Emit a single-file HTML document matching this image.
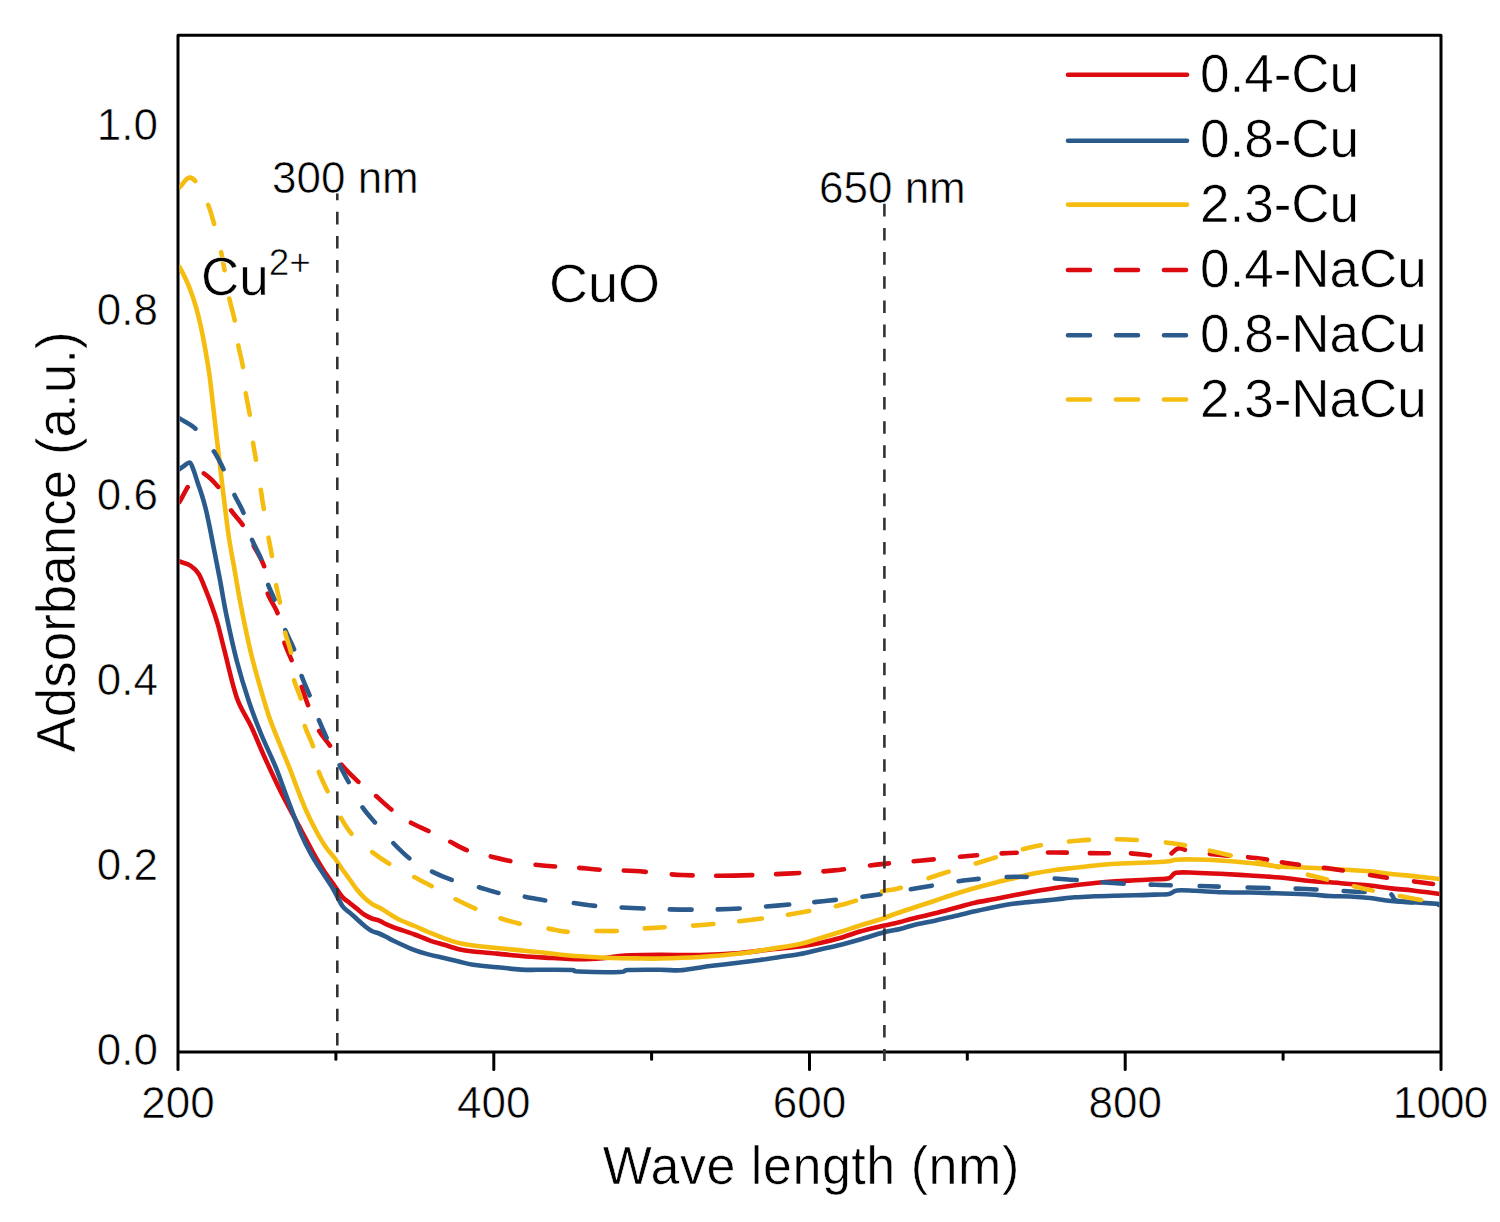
<!DOCTYPE html>
<html><head><meta charset="utf-8">
<style>
html,body{margin:0;padding:0;background:#fff;}
body{width:1500px;height:1222px;overflow:hidden;}
svg{display:block;}
text{font-family:"Liberation Sans",sans-serif;fill:#000;stroke:#fff;stroke-width:0.6px;}
</style></head>
<body>
<svg width="1500" height="1222" viewBox="0 0 1500 1222">
<defs><clipPath id="pc"><rect x="179.5" y="36" width="1260" height="1015"/></clipPath></defs>
<rect x="0" y="0" width="1500" height="1222" fill="#fff"/>
<!-- frame -->
<rect x="178" y="35.3" width="1263" height="1016.8" fill="none" stroke="#000" stroke-width="3" stroke-linejoin="round"/>
<!-- x ticks -->
<g stroke="#000" stroke-width="3" stroke-linecap="round">
<line x1="178" y1="1053" x2="178" y2="1069.5"/>
<line x1="493.8" y1="1053" x2="493.8" y2="1069.5"/>
<line x1="809.5" y1="1053" x2="809.5" y2="1069.5"/>
<line x1="1125.2" y1="1053" x2="1125.2" y2="1069.5"/>
<line x1="1441" y1="1053" x2="1441" y2="1069.5"/>
<line x1="335.9" y1="1053" x2="335.9" y2="1059.3"/>
<line x1="651.6" y1="1053" x2="651.6" y2="1059.3"/>
<line x1="967.3" y1="1053" x2="967.3" y2="1059.3"/>
<line x1="1283.1" y1="1053" x2="1283.1" y2="1059.3"/>
</g>
<!-- x tick labels -->
<g font-size="44" text-anchor="middle">
<text x="178" y="1117.5">200</text>
<text x="493.8" y="1117.5">400</text>
<text x="809.5" y="1117.5">600</text>
<text x="1125.2" y="1117.5">800</text>
<text x="1440.5" y="1117.5" textLength="95.5" lengthAdjust="spacing">1000</text>
</g>
<!-- y tick labels -->
<g font-size="44" text-anchor="end">
<text x="158" y="1064.5">0.0</text>
<text x="158" y="879.5">0.2</text>
<text x="158" y="694.5">0.4</text>
<text x="158" y="509.5">0.6</text>
<text x="158" y="324.5">0.8</text>
<text x="158" y="139.5">1.0</text>
</g>
<!-- axis titles -->
<text x="811" y="1184.5" transform="translate(0 1184.5) scale(1 1.035) translate(0 -1184.5)" font-size="52" text-anchor="middle" textLength="416.5" lengthAdjust="spacing">Wave length (nm)</text>
<text transform="translate(75.4,542) rotate(-90) scale(1 1.035)" font-size="53" text-anchor="middle">Adsorbance (a.u.)</text>

<!-- CURVES -->
<g id="curves" clip-path="url(#pc)">
<path d="M179.50,561.50 C183.13,562.87 187.22,563.55 190.40,565.60 C193.58,567.65 196.03,569.70 198.60,573.80 C201.17,577.90 203.57,584.75 205.80,590.20 C208.03,595.65 209.97,600.70 212.00,606.50 C214.03,612.30 215.92,617.63 218.00,625.00 C220.08,632.37 221.37,638.58 224.50,650.70 C227.63,662.82 232.37,685.10 236.80,697.70 C241.23,710.30 246.33,716.08 251.10,726.30 C255.87,736.52 260.28,747.75 265.40,759.00 C270.52,770.25 276.33,782.88 281.80,793.80 C287.27,804.72 292.75,814.27 298.20,824.50 C303.65,834.73 310.20,847.45 314.50,855.20 C318.80,862.95 320.58,865.78 324.00,871.00 C327.42,876.22 331.93,882.15 335.00,886.50 C338.07,890.85 339.95,894.35 342.40,897.10 C344.85,899.85 347.25,901.03 349.70,903.00 C352.15,904.97 354.63,906.93 357.10,908.90 C359.57,910.87 362.05,913.20 364.50,914.80 C366.95,916.40 369.35,917.52 371.80,918.50 C374.25,919.48 376.75,919.72 379.20,920.70 C381.65,921.68 384.03,923.27 386.50,924.40 C388.97,925.53 391.75,926.65 394.00,927.50 C396.25,928.35 396.57,928.33 400.00,929.50 C403.43,930.67 409.70,932.70 414.60,934.50 C419.50,936.30 424.48,938.58 429.40,940.30 C434.32,942.02 439.20,943.32 444.10,944.80 C449.00,946.28 453.98,948.08 458.80,949.20 C463.62,950.32 466.63,950.77 473.00,951.50 C479.37,952.23 489.00,952.85 497.00,953.60 C505.00,954.35 513.00,955.33 521.00,956.00 C529.00,956.67 535.17,957.05 545.00,957.60 C554.83,958.15 570.00,959.23 580.00,959.30 C590.00,959.37 597.50,958.63 605.00,958.00 C612.50,957.37 615.83,956.03 625.00,955.50 C634.17,954.97 647.50,954.88 660.00,954.80 C672.50,954.72 686.67,955.30 700.00,955.00 C713.33,954.70 728.33,953.92 740.00,953.00 C751.67,952.08 760.00,950.58 770.00,949.50 C780.00,948.42 791.67,947.58 800.00,946.50 C808.33,945.42 813.33,944.42 820.00,943.00 C826.67,941.58 833.33,939.92 840.00,938.00 C846.67,936.08 853.33,933.42 860.00,931.50 C866.67,929.58 874.17,927.87 880.00,926.50 C885.83,925.13 889.17,924.72 895.00,923.30 C900.83,921.88 908.33,919.67 915.00,918.00 C921.67,916.33 928.33,914.97 935.00,913.30 C941.67,911.63 948.33,909.77 955.00,908.00 C961.67,906.23 968.33,904.20 975.00,902.70 C981.67,901.20 988.33,900.28 995.00,899.00 C1001.67,897.72 1008.33,896.28 1015.00,895.00 C1021.67,893.72 1028.33,892.47 1035.00,891.30 C1041.67,890.13 1048.33,889.00 1055.00,888.00 C1061.67,887.00 1068.33,886.13 1075.00,885.30 C1081.67,884.47 1088.33,883.67 1095.00,883.00 C1101.67,882.33 1108.33,881.75 1115.00,881.30 C1121.67,880.85 1128.33,880.63 1135.00,880.30 C1141.67,879.97 1149.33,879.63 1155.00,879.30 C1160.67,878.97 1165.50,879.38 1169.00,878.30 C1172.50,877.22 1171.67,873.73 1176.00,872.80 C1180.33,871.87 1187.67,872.55 1195.00,872.70 C1202.33,872.85 1210.83,873.23 1220.00,873.70 C1229.17,874.17 1240.00,874.87 1250.00,875.50 C1260.00,876.13 1270.00,876.58 1280.00,877.50 C1290.00,878.42 1301.67,880.20 1310.00,881.00 C1318.33,881.80 1323.33,881.80 1330.00,882.30 C1336.67,882.80 1343.33,883.47 1350.00,884.00 C1356.67,884.53 1363.17,884.77 1370.00,885.50 C1376.83,886.23 1383.83,887.57 1391.00,888.40 C1398.17,889.23 1404.83,889.57 1413.00,890.50 C1421.17,891.43 1431.00,892.83 1440.00,894.00" fill="none" stroke="#DD0A0F" stroke-width="4.6" stroke-linecap="round" stroke-linejoin="round"/>
<path d="M179.50,469.00 C181.00,468.00 182.28,467.08 184.00,466.00 C185.72,464.92 188.18,461.75 189.80,462.50 C191.42,463.25 192.40,467.17 193.70,470.50 C195.00,473.83 196.28,478.53 197.60,482.50 C198.92,486.47 200.28,490.05 201.60,494.30 C202.92,498.55 204.20,502.77 205.50,508.00 C206.80,513.23 207.98,518.82 209.40,525.70 C210.82,532.58 212.23,540.25 214.00,549.30 C215.77,558.35 217.93,569.05 220.00,580.00 C222.07,590.95 223.60,601.50 226.40,615.00 C229.20,628.50 233.03,646.53 236.80,661.00 C240.57,675.47 244.92,689.55 249.00,701.80 C253.08,714.05 256.85,723.60 261.30,734.50 C265.75,745.40 271.27,756.28 275.70,767.20 C280.13,778.12 283.68,788.90 287.90,800.00 C292.12,811.10 297.05,824.62 301.00,833.80 C304.95,842.98 308.07,848.72 311.60,855.10 C315.13,861.48 318.65,866.53 322.20,872.10 C325.75,877.67 329.53,882.85 332.90,888.50 C336.27,894.15 339.60,901.98 342.40,906.00 C345.20,910.02 347.25,910.40 349.70,912.60 C352.15,914.80 354.63,917.00 357.10,919.20 C359.57,921.40 362.05,923.83 364.50,925.80 C366.95,927.77 369.35,929.72 371.80,931.00 C374.25,932.28 376.75,932.50 379.20,933.50 C381.65,934.50 384.03,935.75 386.50,937.00 C388.97,938.25 389.32,938.80 394.00,941.00 C398.68,943.20 408.70,947.93 414.60,950.20 C420.50,952.47 424.48,953.30 429.40,954.60 C434.32,955.90 439.20,956.85 444.10,958.00 C449.00,959.15 453.98,960.37 458.80,961.50 C463.62,962.63 466.63,963.85 473.00,964.80 C479.37,965.75 489.00,966.40 497.00,967.20 C505.00,968.00 513.00,969.17 521.00,969.60 C529.00,970.03 536.50,969.73 545.00,969.80 C553.50,969.87 566.50,969.72 572.00,970.00 C577.50,970.28 570.00,971.17 578.00,971.50 C586.00,971.83 611.67,972.25 620.00,972.00 C628.33,971.75 621.33,970.37 628.00,970.00 C634.67,969.63 651.33,969.75 660.00,969.80 C668.67,969.85 673.83,970.60 680.00,970.30 C686.17,970.00 692.00,968.72 697.00,968.00 C702.00,967.28 703.50,966.83 710.00,966.00 C716.50,965.17 727.67,964.00 736.00,963.00 C744.33,962.00 752.67,961.00 760.00,960.00 C767.33,959.00 773.33,958.00 780.00,957.00 C786.67,956.00 793.33,955.27 800.00,954.00 C806.67,952.73 813.33,950.90 820.00,949.40 C826.67,947.90 833.33,946.65 840.00,945.00 C846.67,943.35 852.67,941.62 860.00,939.50 C867.33,937.38 877.33,934.05 884.00,932.30 C890.67,930.55 894.83,930.27 900.00,929.00 C905.17,927.73 909.17,926.08 915.00,924.70 C920.83,923.32 928.33,922.15 935.00,920.70 C941.67,919.25 948.33,917.57 955.00,916.00 C961.67,914.43 968.33,912.80 975.00,911.30 C981.67,909.80 988.33,908.30 995.00,907.00 C1001.67,905.70 1008.33,904.42 1015.00,903.50 C1021.67,902.58 1028.33,902.17 1035.00,901.50 C1041.67,900.83 1048.33,900.20 1055.00,899.50 C1061.67,898.80 1068.33,897.83 1075.00,897.30 C1081.67,896.77 1088.33,896.57 1095.00,896.30 C1101.67,896.03 1108.33,895.87 1115.00,895.70 C1121.67,895.53 1128.33,895.48 1135.00,895.30 C1141.67,895.12 1149.33,894.83 1155.00,894.60 C1160.67,894.37 1165.33,894.58 1169.00,893.90 C1172.67,893.22 1172.67,891.02 1177.00,890.50 C1181.33,889.98 1187.33,890.50 1195.00,890.80 C1202.67,891.10 1213.83,892.02 1223.00,892.30 C1232.17,892.58 1241.00,892.33 1250.00,892.50 C1259.00,892.67 1267.00,892.97 1277.00,893.30 C1287.00,893.63 1301.17,894.05 1310.00,894.50 C1318.83,894.95 1323.33,895.67 1330.00,896.00 C1336.67,896.33 1343.33,896.17 1350.00,896.50 C1356.67,896.83 1363.17,897.25 1370.00,898.00 C1376.83,898.75 1383.83,900.28 1391.00,901.00 C1398.17,901.72 1404.83,901.80 1413.00,902.30 C1421.17,902.80 1431.00,903.43 1440.00,904.00" fill="none" stroke="#2B5B8C" stroke-width="4.6" stroke-linecap="round" stroke-linejoin="round"/>
<path d="M179.50,267.00 C181.33,270.50 183.13,273.50 185.00,277.50 C186.87,281.50 188.87,286.08 190.70,291.00 C192.53,295.92 194.37,301.33 196.00,307.00 C197.63,312.67 199.08,318.67 200.50,325.00 C201.92,331.33 203.03,336.83 204.50,345.00 C205.97,353.17 207.88,364.00 209.30,374.00 C210.72,384.00 211.70,393.83 213.00,405.00 C214.30,416.17 215.73,429.17 217.10,441.00 C218.47,452.83 219.83,464.50 221.20,476.00 C222.57,487.50 223.95,499.33 225.30,510.00 C226.65,520.67 227.77,530.08 229.30,540.00 C230.83,549.92 232.78,559.68 234.50,569.50 C236.22,579.32 237.77,589.08 239.60,598.90 C241.43,608.72 243.42,618.58 245.50,628.40 C247.58,638.22 249.65,647.98 252.10,657.80 C254.55,667.62 257.37,677.48 260.20,687.30 C263.03,697.12 265.88,707.33 269.10,716.70 C272.32,726.07 275.97,734.62 279.50,743.50 C283.03,752.38 287.25,762.25 290.30,770.00 C293.35,777.75 295.13,783.17 297.80,790.00 C300.47,796.83 303.28,804.25 306.30,811.00 C309.32,817.75 312.72,824.58 315.90,830.50 C319.08,836.42 322.22,841.83 325.40,846.50 C328.58,851.17 332.17,854.67 335.00,858.50 C337.83,862.33 339.95,866.00 342.40,869.50 C344.85,873.00 347.25,876.12 349.70,879.50 C352.15,882.88 354.63,886.73 357.10,889.80 C359.57,892.87 362.05,895.57 364.50,897.90 C366.95,900.23 369.35,902.18 371.80,903.80 C374.25,905.42 376.75,906.23 379.20,907.60 C381.65,908.97 384.03,910.47 386.50,912.00 C388.97,913.53 391.75,915.47 394.00,916.80 C396.25,918.13 396.57,918.47 400.00,920.00 C403.43,921.53 409.70,923.92 414.60,926.00 C419.50,928.08 424.48,930.43 429.40,932.50 C434.32,934.57 439.20,936.65 444.10,938.40 C449.00,940.15 453.98,941.82 458.80,943.00 C463.62,944.18 466.63,944.67 473.00,945.50 C479.37,946.33 489.00,947.18 497.00,948.00 C505.00,948.82 513.00,949.60 521.00,950.40 C529.00,951.20 537.83,952.03 545.00,952.80 C552.17,953.57 556.83,954.33 564.00,955.00 C571.17,955.67 580.00,956.30 588.00,956.80 C596.00,957.30 604.00,957.73 612.00,958.00 C620.00,958.27 628.00,958.32 636.00,958.40 C644.00,958.48 649.33,958.73 660.00,958.50 C670.67,958.27 686.67,957.83 700.00,957.00 C713.33,956.17 728.33,954.83 740.00,953.50 C751.67,952.17 760.00,950.58 770.00,949.00 C780.00,947.42 791.67,945.80 800.00,944.00 C808.33,942.20 813.33,940.20 820.00,938.20 C826.67,936.20 833.33,934.12 840.00,932.00 C846.67,929.88 853.33,927.58 860.00,925.50 C866.67,923.42 874.17,921.42 880.00,919.50 C885.83,917.58 889.17,916.03 895.00,914.00 C900.83,911.97 908.33,909.52 915.00,907.30 C921.67,905.08 928.33,902.92 935.00,900.70 C941.67,898.48 948.33,896.12 955.00,894.00 C961.67,891.88 968.33,889.88 975.00,888.00 C981.67,886.12 988.33,884.37 995.00,882.70 C1001.67,881.03 1008.33,879.57 1015.00,878.00 C1021.67,876.43 1028.33,874.63 1035.00,873.30 C1041.67,871.97 1048.33,870.93 1055.00,870.00 C1061.67,869.07 1068.33,868.45 1075.00,867.70 C1081.67,866.95 1088.33,866.17 1095.00,865.50 C1101.67,864.83 1108.33,864.12 1115.00,863.70 C1121.67,863.28 1128.33,863.23 1135.00,863.00 C1141.67,862.77 1149.33,862.58 1155.00,862.30 C1160.67,862.02 1165.50,861.73 1169.00,861.30 C1172.50,860.87 1171.67,860.00 1176.00,859.70 C1180.33,859.40 1187.67,859.37 1195.00,859.50 C1202.33,859.63 1210.83,859.92 1220.00,860.50 C1229.17,861.08 1240.00,862.00 1250.00,863.00 C1260.00,864.00 1270.00,865.72 1280.00,866.50 C1290.00,867.28 1298.33,867.12 1310.00,867.70 C1321.67,868.28 1340.00,869.40 1350.00,870.00 C1360.00,870.60 1363.17,870.63 1370.00,871.30 C1376.83,871.97 1383.83,873.20 1391.00,874.00 C1398.17,874.80 1404.83,875.27 1413.00,876.10 C1421.17,876.93 1431.00,878.03 1440.00,879.00" fill="none" stroke="#F5BD0F" stroke-width="4.6" stroke-linecap="round" stroke-linejoin="round"/>
<path d="M179.50,502.00 C182.47,496.67 185.65,490.50 188.40,486.00 C191.15,481.50 193.62,477.23 196.00,475.00 C198.38,472.77 198.87,470.43 202.70,472.60 C206.53,474.77 214.42,481.93 219.00,488.00 C223.58,494.07 226.13,502.67 230.20,509.00 C234.27,515.33 239.60,520.08 243.40,526.00 C247.20,531.92 249.48,537.58 253.00,544.50 C256.52,551.42 262.13,559.58 264.50,567.50 C266.87,575.42 264.95,584.20 267.20,592.00 C269.45,599.80 275.22,606.13 278.00,614.30 C280.78,622.47 281.55,633.15 283.90,641.00 C286.25,648.85 289.23,654.05 292.10,661.40 C294.97,668.75 298.37,677.60 301.10,685.10 C303.83,692.60 305.63,699.02 308.50,706.40 C311.37,713.78 314.62,722.70 318.30,729.40 C321.98,736.10 326.90,740.92 330.60,746.60 C334.30,752.28 335.73,757.50 340.50,763.50 C345.27,769.50 353.48,777.35 359.20,782.60 C364.92,787.85 369.28,790.40 374.80,795.00 C380.32,799.60 386.53,805.72 392.30,810.20 C398.07,814.68 403.18,818.35 409.40,821.90 C415.62,825.45 423.05,828.32 429.60,831.50 C436.15,834.68 442.32,837.82 448.70,841.00 C455.08,844.18 461.17,848.10 467.90,850.60 C474.63,853.10 481.83,854.22 489.10,856.00 C496.37,857.78 504.05,859.88 511.50,861.30 C518.95,862.72 526.35,863.62 533.80,864.50 C541.25,865.38 548.93,866.07 556.20,866.60 C563.47,867.13 569.95,867.17 577.40,867.70 C584.85,868.23 591.30,869.25 600.90,869.80 C610.50,870.35 621.48,870.13 635.00,871.00 C648.52,871.87 665.50,874.23 682.00,875.00 C698.50,875.77 716.50,875.83 734.00,875.60 C751.50,875.37 770.33,874.47 787.00,873.60 C803.67,872.73 818.67,871.93 834.00,870.40 C849.33,868.87 864.33,866.05 879.00,864.40 C893.67,862.75 907.17,861.90 922.00,860.50 C936.83,859.10 953.33,857.25 968.00,856.00 C982.67,854.75 995.33,853.58 1010.00,853.00 C1024.67,852.42 1041.00,852.45 1056.00,852.50 C1071.00,852.55 1088.00,853.18 1100.00,853.30 C1112.00,853.42 1119.50,852.83 1128.00,853.20 C1136.50,853.57 1144.50,855.03 1151.00,855.50 C1157.50,855.97 1162.50,857.17 1167.00,856.00 C1171.50,854.83 1174.50,849.42 1178.00,848.50 C1181.50,847.58 1181.83,849.50 1188.00,850.50 C1194.17,851.50 1203.67,853.25 1215.00,854.50 C1226.33,855.75 1243.50,856.50 1256.00,858.00 C1268.50,859.50 1277.17,861.67 1290.00,863.50 C1302.83,865.33 1318.17,866.83 1333.00,869.00 C1347.83,871.17 1364.17,874.25 1379.00,876.50 C1393.83,878.75 1411.83,881.08 1422.00,882.50 C1432.17,883.92 1434.00,884.17 1440.00,885.00" fill="none" stroke="#DD0A0F" stroke-width="4.6" stroke-linecap="round" stroke-linejoin="round" stroke-dasharray="16.81 24.56 19.53 26.84 18.54 23.86 22.76 27.72 21.83 30.37 19.00 28.35 19.55 28.02 18.17 22.62 23.75 22.94 20.18 23.74 19.37 24.33 18.48 24.89 20.02 25.53 19.50 24.23 20.60 24.11 22.06 26.11 21.03 23.30 36.21 23.52 23.24 24.45 20.53 26.24 19.15 25.08 20.10 26.12 17.08 25.06 15.02 31.00 19.00 23.00 19.00 22.00 19.12 22.44 15.41 25.29 19.11 19.05 19.18 15.19 17.21 25.16 19.23 27.34 17.24 27.23 19.21 57.56" stroke-dashoffset="0.00"/>
<path d="M179.50,418.40 C185.20,422.17 191.02,424.43 196.60,429.70 C202.18,434.97 208.40,443.18 213.00,450.00 C217.60,456.82 220.73,463.33 224.20,470.60 C227.67,477.87 230.48,486.33 233.80,493.60 C237.12,500.87 241.15,506.72 244.10,514.20 C247.05,521.68 248.60,530.87 251.50,538.50 C254.40,546.13 258.80,552.52 261.50,560.00 C264.20,567.48 265.43,576.57 267.70,583.40 C269.97,590.23 272.27,593.45 275.10,601.00 C277.93,608.55 281.45,620.40 284.70,628.70 C287.95,637.00 291.87,643.17 294.60,650.80 C297.33,658.43 298.52,666.87 301.10,674.50 C303.68,682.13 307.23,689.23 310.10,696.60 C312.97,703.97 315.43,711.60 318.30,718.70 C321.17,725.80 323.88,731.70 327.30,739.20 C330.72,746.70 335.12,756.33 338.80,763.70 C342.48,771.07 345.60,776.35 349.40,783.40 C353.20,790.45 357.18,799.32 361.60,806.00 C366.02,812.68 370.78,817.48 375.90,823.50 C381.02,829.52 386.55,836.17 392.30,842.10 C398.05,848.03 404.02,854.30 410.40,859.10 C416.78,863.90 423.50,867.35 430.60,870.90 C437.70,874.45 445.20,877.75 453.00,880.40 C460.80,883.05 469.60,884.67 477.40,886.80 C485.20,888.93 492.17,891.60 499.80,893.20 C507.43,894.80 515.40,895.17 523.20,896.40 C531.00,897.63 538.45,899.53 546.60,900.60 C554.75,901.67 563.77,901.90 572.10,902.80 C580.43,903.70 586.62,905.13 596.60,906.00 C606.58,906.87 618.10,907.40 632.00,908.00 C645.90,908.60 663.83,909.43 680.00,909.60 C696.17,909.77 712.83,909.67 729.00,909.00 C745.17,908.33 761.00,906.93 777.00,905.60 C793.00,904.27 809.33,902.67 825.00,901.00 C840.67,899.33 855.00,897.85 871.00,895.60 C887.00,893.35 904.83,890.10 921.00,887.50 C937.17,884.90 952.17,881.78 968.00,880.00 C983.83,878.22 999.83,876.93 1016.00,876.80 C1032.17,876.67 1048.83,878.17 1065.00,879.20 C1081.17,880.23 1097.00,882.03 1113.00,883.00 C1129.00,883.97 1145.00,884.45 1161.00,885.00 C1177.00,885.55 1193.00,885.83 1209.00,886.30 C1225.00,886.77 1240.83,887.35 1257.00,887.80 C1273.17,888.25 1289.67,888.35 1306.00,889.00 C1322.33,889.65 1341.33,891.03 1355.00,891.70 C1368.67,892.37 1381.17,891.53 1388.00,893.00 C1394.83,894.47 1391.67,898.92 1396.00,900.50 C1400.33,902.08 1406.67,901.75 1414.00,902.50 C1421.33,903.25 1431.33,904.17 1440.00,905.00" fill="none" stroke="#2B5B8C" stroke-width="4.6" stroke-linecap="round" stroke-linejoin="round" stroke-dasharray="19.04 29.14 20.47 27.93 20.04 28.41 20.73 27.22 16.10 32.32 21.23 27.59 20.87 26.57 19.39 30.07 19.37 28.69 19.62 27.80 21.86 26.43 21.35 28.23 20.30 26.63 20.78 28.60 21.71 26.45 22.02 26.01 22.00 26.00 22.02 26.56 23.09 25.10 21.64 27.16 18.21 30.37 21.33 27.34 20.16 28.06 20.01 28.04 22.06 26.08 21.05 27.02 20.01 29.01 19.01 29.01 21.01 27.01 21.02 27.04 21.02 27.15 24.63 26.01 0.20 51.41" stroke-dashoffset="0.00"/>
<path d="M179.50,187.50 C182.57,184.27 185.92,178.67 188.70,177.80 C191.48,176.93 193.05,178.02 196.20,182.30 C199.35,186.58 204.55,196.33 207.60,203.50 C210.65,210.67 212.30,217.47 214.50,225.30 C216.70,233.13 219.08,242.77 220.80,250.50 C222.52,258.23 223.43,263.95 224.80,271.70 C226.17,279.45 227.30,288.65 229.00,297.00 C230.70,305.35 233.50,313.98 235.00,321.80 C236.50,329.62 236.63,336.13 238.00,343.90 C239.37,351.67 241.95,360.43 243.20,368.40 C244.45,376.37 244.37,383.77 245.50,391.70 C246.63,399.63 248.78,407.78 250.00,416.00 C251.22,424.22 251.77,433.45 252.80,441.00 C253.83,448.55 254.92,453.47 256.20,461.30 C257.48,469.13 259.20,479.82 260.50,488.00 C261.80,496.18 262.72,502.40 264.00,510.40 C265.28,518.40 266.83,528.15 268.20,536.00 C269.57,543.85 270.93,549.60 272.20,557.50 C273.47,565.40 274.47,575.65 275.80,583.40 C277.13,591.15 278.72,596.07 280.20,604.00 C281.68,611.93 282.85,622.67 284.70,631.00 C286.55,639.33 289.80,646.07 291.30,654.00 C292.80,661.93 292.07,670.95 293.70,678.60 C295.33,686.25 299.32,692.27 301.10,699.90 C302.88,707.53 302.35,716.48 304.40,724.40 C306.45,732.32 311.08,739.75 313.40,747.40 C315.72,755.05 315.85,762.80 318.30,770.30 C320.75,777.80 324.48,784.73 328.10,792.40 C331.72,800.07 335.97,809.25 340.00,816.30 C344.03,823.35 347.17,828.92 352.30,834.70 C357.43,840.48 364.48,846.05 370.80,851.00 C377.12,855.95 383.23,860.20 390.20,864.40 C397.17,868.60 405.50,872.47 412.60,876.20 C419.70,879.93 425.90,883.08 432.80,886.80 C439.70,890.52 446.73,894.78 454.00,898.50 C461.27,902.22 468.95,905.90 476.40,909.10 C483.85,912.30 491.27,915.22 498.70,917.70 C506.13,920.18 513.02,922.23 521.00,924.00 C528.98,925.77 538.62,926.97 546.60,928.30 C554.58,929.63 560.92,931.55 568.90,932.00 C576.88,932.45 586.32,931.17 594.50,931.00 C602.68,930.83 609.92,931.42 618.00,931.00 C626.08,930.58 629.00,929.50 643.00,928.50 C657.00,927.50 684.17,926.42 702.00,925.00 C719.83,923.58 734.00,922.00 750.00,920.00 C766.00,918.00 782.17,915.67 798.00,913.00 C813.83,910.33 831.33,907.50 845.00,904.00 C858.67,900.50 870.83,894.67 880.00,892.00 C889.17,889.33 890.33,890.83 900.00,888.00 C909.67,885.17 924.00,879.50 938.00,875.00 C952.00,870.50 968.33,865.67 984.00,861.00 C999.67,856.33 1016.00,850.42 1032.00,847.00 C1048.00,843.58 1064.33,841.75 1080.00,840.50 C1095.67,839.25 1110.33,839.00 1126.00,839.50 C1141.67,840.00 1158.33,841.25 1174.00,843.50 C1189.67,845.75 1204.33,849.50 1220.00,853.00 C1235.67,856.50 1251.83,860.50 1268.00,864.50 C1284.17,868.50 1301.17,873.00 1317.00,877.00 C1332.83,881.00 1347.50,885.00 1363.00,888.50 C1378.50,892.00 1397.17,895.58 1410.00,898.00 C1422.83,900.42 1430.00,901.33 1440.00,903.00" fill="none" stroke="#F5BD0F" stroke-width="4.6" stroke-linecap="round" stroke-linejoin="round" stroke-dasharray="21.48 27.11 19.88 28.98 18.58 28.65 22.52 25.31 22.05 26.42 21.72 28.16 17.58 30.04 19.67 28.94 18.87 29.15 18.07 30.38 20.94 27.74 19.58 27.75 21.72 26.44 21.19 29.71 19.18 27.69 20.59 28.32 19.81 27.22 21.79 26.91 20.18 28.96 19.62 28.63 20.50 28.13 20.04 28.04 20.57 26.13 22.70 26.24 21.83 26.90 20.84 27.46 19.52 29.47 21.19 28.07 21.05 28.08 18.51 28.23 20.08 28.01 20.01 29.10 19.25 25.51 21.62 27.69 21.73 29.84 19.71 27.76 19.56 27.48 21.40 69.73" stroke-dashoffset="0.00"/>
</g>
<!-- /CURVES -->

<!-- vertical dashed lines -->
<g stroke="#333" stroke-width="2.6" stroke-dasharray="12.6 11.55" fill="none">
<line x1="337.3" y1="193.5" x2="337.3" y2="1052" stroke-dashoffset="5.85"/>
<line x1="884.4" y1="203.5" x2="884.4" y2="1061" stroke-dashoffset="-0.3"/>
</g>
<!-- annotations -->
<g font-size="44">
<text x="272" y="193.2">300 nm</text>
<text x="819" y="203.3">650 nm</text>
</g>
<text x="201" y="295" font-size="53">Cu<tspan font-size="37" dy="-20.5">2+</tspan></text>
<text x="549" y="301.5" font-size="54">CuO</text>

<!-- legend -->
<g stroke-width="4.6" stroke-linecap="round" fill="none">
<line x1="1068" y1="74.7" x2="1187" y2="74.7" stroke="#DD0A0F"/>
<line x1="1068" y1="140.7" x2="1187" y2="140.7" stroke="#2B5B8C"/>
<line x1="1068" y1="204.6" x2="1187" y2="204.6" stroke="#F5BD0F"/>
<line x1="1068" y1="270" x2="1190" y2="270" stroke="#DD0A0F" stroke-dasharray="22 26"/>
<line x1="1068" y1="335.3" x2="1190" y2="335.3" stroke="#2B5B8C" stroke-dasharray="22 26"/>
<line x1="1068" y1="399.5" x2="1190" y2="399.5" stroke="#F5BD0F" stroke-dasharray="22 26"/>
</g>
<g font-size="53">
<text x="1200" y="92" transform="translate(0 92) scale(1 1.020) translate(0 -92)">0.4-Cu</text>
<text x="1200" y="157" transform="translate(0 157) scale(1 1.020) translate(0 -157)">0.8-Cu</text>
<text x="1200" y="221.9" transform="translate(0 221.9) scale(1 1.020) translate(0 -221.9)">2.3-Cu</text>
<text x="1200" y="286.6" transform="translate(0 286.6) scale(1 1.020) translate(0 -286.6)">0.4-NaCu</text>
<text x="1200" y="351.6" transform="translate(0 351.6) scale(1 1.020) translate(0 -351.6)">0.8-NaCu</text>
<text x="1200" y="416.8" transform="translate(0 416.8) scale(1 1.020) translate(0 -416.8)">2.3-NaCu</text>
</g>
</svg>
</body></html>
